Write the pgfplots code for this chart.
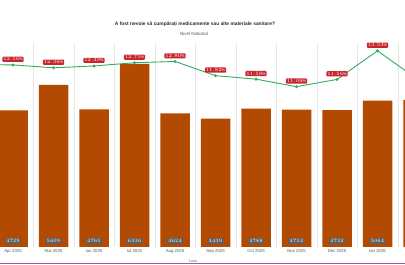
\documentclass[border=0pt]{standalone}
\usepackage{pgfplots}
\usepackage{pgfplotstable}
\pgfplotsset{compat=1.18}
\usepackage{fontspec}
\setmainfont{Liberation Sans}
\definecolor{barc}{RGB}{178,74,2}
\definecolor{linec}{RGB}{52,172,96}
\definecolor{redl}{RGB}{200,38,45}
\definecolor{grayl}{RGB}{95,95,95}
\definecolor{gridc}{RGB}{230,230,230}
\definecolor{botc}{RGB}{181,80,150}
\definecolor{tickc}{RGB}{85,85,85}
\pgfplotstableread{
x bar pct
-1 nan 12.60
0 4729 12.56
1 5609 12.36
2 4761 12.49
3 6336 12.71
4 4624 12.80
5 4439 11.82
6 4788 11.58
7 4752 11.06
8 4732 11.56
9 5064 13.53
10 5085 11.55
}\data
\begin{document}
\begin{tikzpicture}[x=1bp,y=1bp]
\useasboundingbox (0,0) rectangle (405,265);
\clip (0,0) rectangle (405,265);
\begin{axis}[at={(-7.25bp,18bp)}, anchor=south west, scale only axis,
  width=445.5bp, height=204bp, xmin=-0.5, xmax=10.5, ymin=0, ymax=7056,
  clip=false, axis line style={draw=none}, major tick length=0pt, minor tick length=0pt,
  ytick=\empty,
  xtick={0,...,9},
  xticklabels={Apr 2025,Mai 2025,Iun 2025,Iul 2025,Aug 2025,Sep 2025,Oct 2025,Nov 2025,Dec 2025,Ian 2026},
  xticklabel style={font=\fontsize{4.3}{5}\selectfont, text=tickc, yshift=1bp},
  minor xtick={-0.5,0.5,...,10.5}, xminorgrids, minor grid style={gridc, line width=0.5bp},
  ]
\addplot[ybar, bar width=29.5bp, fill=barc, draw=none] table[x=x,y=bar]{\data};
\addplot[only marks, mark=none, point meta=\thisrow{bar},
  nodes near coords={\pgfmathprintnumber[fixed,precision=0,1000 sep={}]{\pgfplotspointmeta}},
  every node near coord/.style={fill=grayl, text=white, font=\fontsize{4}{4}\selectfont,
    rounded corners=1bp, inner sep=1.2bp, anchor=center, minimum width=12bp}]
  table[x=x, y expr=207.5+0*\thisrow{bar}]{\data};
\end{axis}
\begin{axis}[at={(-7.25bp,18bp)}, anchor=south west, scale only axis,
  width=445.5bp, height=207bp, xmin=-0.5, xmax=10.5, ymin=0, ymax=14.28,
  clip=false, hide axis]
\addplot[linec, line width=0.9bp, mark=*, mark size=1bp, mark options={fill=linec},
  point meta=y,
  nodes near coords={\pgfmathprintnumber[fixed,fixed zerofill,precision=2]{\pgfplotspointmeta}\%},
  every node near coord/.style={fill=redl, text=white, font=\fontsize{4}{4}\selectfont,
    rounded corners=1bp, inner sep=1bp, anchor=south, yshift=2.5bp}]
  table[x=x,y=pct]{\data};
\end{axis}
\node[font=\bfseries\fontsize{4.9}{5}\selectfont, text={rgb,255:red,40;green,40;blue,40}] at (195,241) {A fost nevoie să cumpărați medicamente sau alte materiale sanitare?};
\node[font=\fontsize{4.5}{5}\selectfont, text=tickc] at (194,231) {Nivel National};
\node[font=\fontsize{3.5}{4}\selectfont, text=tickc] at (193,3.5) {Luna};
\draw[botc, line width=1bp] (0,1.5) -- (405,1.5);
\end{tikzpicture}
\end{document}
